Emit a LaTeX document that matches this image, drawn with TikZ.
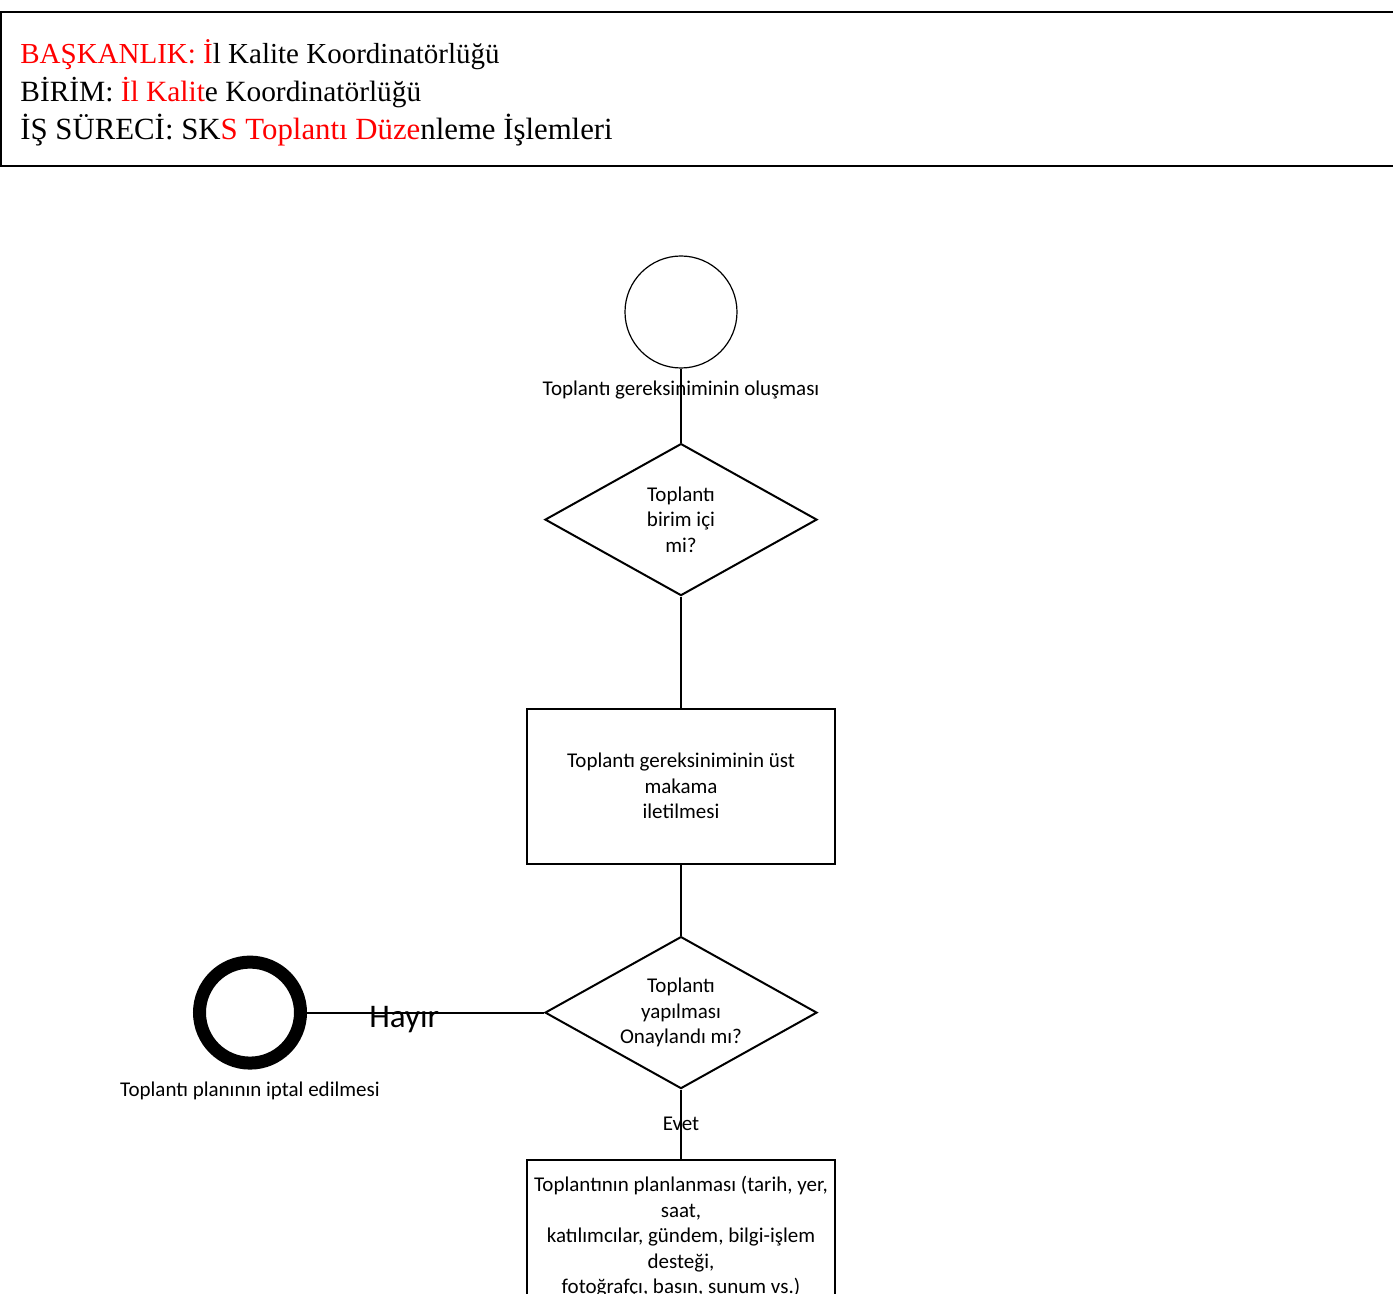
\documentclass[tikz,border=0pt]{standalone}
\usepackage{fontspec}
\setmainfont{Liberation Serif}
\newfontfamily\flowfont{Carlito}
\usetikzlibrary{shapes.geometric, positioning}

\begin{document}
\begin{tikzpicture}[
    x=0.5pt, y=-0.5pt,
    every node/.style={font=\flowfont\fontsize{10.5}{12.75}\selectfont},
    head/.style={anchor=base west, inner sep=0pt, font=\fontsize{14.5}{17}\selectfont},
    terminal/.style={circle, draw, minimum size=56pt, inner sep=0pt, line width=0.6pt},
    stopper/.style={circle, draw, minimum size=50.5pt, inner sep=0pt, line width=6.5pt},
    decision/.style={diamond, draw, align=center, minimum width=136pt, minimum height=76pt, shape aspect=1.8, inner sep=0pt, line width=1pt},
    process/.style={rectangle, draw, align=center, minimum width=154pt, minimum height=77.5pt, inner xsep=2pt, line width=1pt},
    link/.style={line width=1pt}
]
   \clip (0,0) rectangle (1393,1294);

   % Header
   \draw[line width=1.1pt] (1,12) rectangle (1420,166);
   \node[head] (hdA) at (20,63.5) {\textcolor{red}{BAŞKANLIK: İ}l Kalite Koordinatörlüğü};
   \node[head, font=\fontsize{14.7}{17}\selectfont] (hdB) at (20,101.5) {BİRİM: \textcolor{red}{İl Kalit}e Koordinatörlüğü};
   \node[head, font=\fontsize{15.4}{18}\selectfont] (hdC) at (20,139.5) {İŞ SÜRECİ: SK\textcolor{red}{S Toplantı Düze}nleme İşlemleri};

   % States
   \node[terminal] (start) at (681,312) {};
   \node (startlbl) [below=2.5pt of start] {Toplantı gereksiniminin oluşması};
   \node[decision] (dec1) [below=37pt of start] {Toplantı\\birim içi\\mi?};
   \node[process] (box1) [below=55.5pt of dec1] {Toplantı gereksiniminin üst\\makama\\iletilmesi};
   \node[decision] (dec2) [below=35.5pt of box1] {Toplantı\\yapılması\\Onaylandı mı?};
   \node[process, inner ysep=8pt] (box2) [below=34.5pt of dec2] {Toplantının planlanması (tarih, yer,\\saat,\\katılımcılar, gündem, bilgi-işlem\\desteği,\\fotoğrafçı, basın, sunum vs.)};
   \node[stopper] (stop) [left=118.5pt of dec2] {};
   \node (stoplbl) [below=2.5pt of stop] {Toplantı planının iptal edilmesi};

   % Transitions
   \draw[link] (start) -- (dec1);
   \draw[link] (dec1) -- (box1);
   \draw[link] (box1) -- (dec2);
   \draw[link] (dec2) -- node[pos=0.59, yshift=-3.5pt, font=\flowfont\fontsize{16.5}{19}\selectfont] (hayir) {Hayır} (stop);
   \draw[link] (dec2) -- node[pos=0.5] (evet) {Evet} (box2);
\end{tikzpicture}
\end{document}
